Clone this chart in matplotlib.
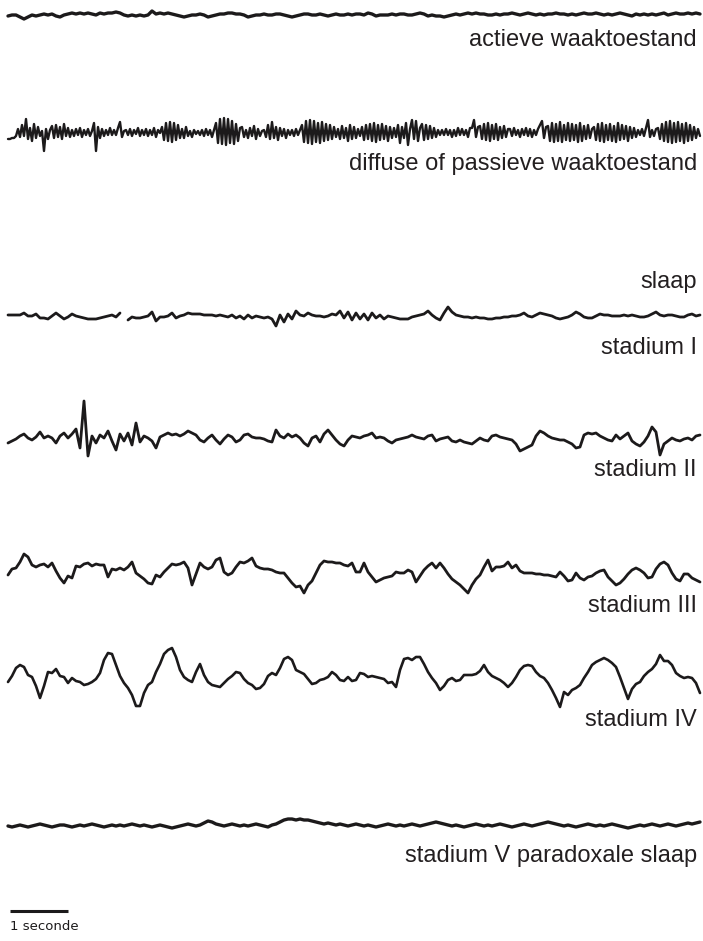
import numpy as np
import matplotlib.pyplot as plt

# EEG traces, values in pixels above each trace's baseline, sampled evenly
actief = [-1, 0, 0, -2, -4, -2, 0, -1, 0, 1,
          0, 1, -1, -2, 0, 1, 2, 1, 2, 1,
          2, 1, 0, 2, 1, 2, 2, 3, 2, 0,
          -1, 0, -1, 0, -1, 0, 4, 1, 2, 1,
          2, 1, 0, -1, -2, -1, 0, 0, 1, 0,
          -2, -1, 0, 1, 1, 2, 2, 1, 1, 0,
          -2, -1, 0, 0, 1, 0, 0, 1, 1, 0,
          -1, -2, -1, 0, 1, 1, 0, 0, 1, 0,
          -1, 0, 1, 0, 0, 1, 0, 1, 1, 0,
          2, 1, -1, 0, 0, 0, 1, 0, 1, 1,
          0, 0, 1, 2, 1, -1, 0, -1, -1, -2,
          -1, 0, 1, 0, 1, 2, 1, 2, 1, 1,
          0, 0, 1, 0, 1, 1, 2, 1, 0, 1,
          2, 1, 0, 1, 0, 1, 1, 2, 1, 1,
          0, 1, 0, 1, 2, 1, 1, 2, 1, 0,
          1, 0, 1, 2, 1, 0, -1, 1, 0, 1,
          0, 1, 0, 1, 2, 0, 1, 2, 1, 1,
          2, 1, 2, 1]

diffuus = [-6, -6, -5, -5, -3,
           4, -4, 8, -3, 14, -6, 5, -8, 9, -5, 6, -3,
           2, -18, 4, -6, 3,
           7, -5, 8, -4, 6, -6, 9, -3, 5, -4,
           3, -3, 4, -2, 5, -4, 3, -2, 4, -3, 2,
           10, -18, 6, -5,
           4, -3, 3, -2, 5, -2, 3, -2, 5,
           11, -4, 2,
           3, -2, 4, -3, 3, -1, 5, -3, 3, -2, 4, -3, 3, -2, 5, -4, 3, 0,
           6, -7, 10, -8, 11, -9, 10, -7, 8, -5,
           4, -5, 6, -3, 2, -4, 3, -1, 2, -2,
           3, -3, 4, -2, 3, -4, 3,
           10, -10, 14, -11, 15, -12, 14, -10, 12, -11, 9, -8, 5,
           6, -4, 3, -5, 5, -3, 7, -6, 4, -3, 2,
           3, -4, 8, -6, 11, -5, 6, -7, 5, -3, 4, -5, 3, -2,
           3, -3, 4, -2, 3,
           8, -9, 12, -10, 13, -11, 12, -9, 10, -10, 11, -8, 9, -7, 8, -6, 6, -4,
           4, -6, 7, -5, 5, -8, 8, -6, 6, -5, 4, -3,
           6, -7, 8, -6, 9, -8, 10, -9, 8, -7, 9, -6, 7, -8, 6, -5,
           5, -4, 8, -10, 6, -5, 10, -12, 4,
           13, -6, 12, -8, 5,
           9, -7, 8, -6, 7, -5, 5, -4, 3, -2,
           3, -2, 4, -2, 3, -4, 3, -3, 5, -2, 4, -2, 3, -4, 5,
           5, 13, -4, 6,
           7, -6, 9, -7, 10, -8, 8, -6, 9, -7, 6, -5, 7, -4, 4,
           4, -3, 5, -2, 3, -4, 4, -2, 5, -3, 4, -4, 3, -2, 4,
           8, 12, -5, 6,
           7, -8, 10, -9, 9, -8, 11, -9, 8, -7, 10, -8, 9, -7, 8, -9, 10, -8, 7, -6, 8, -5, 4,
           6, -7, 9, -8, 10, -9, 8, -7, 9, -8, 7, -9, 10, -7, 8, -6, 7, -8, 6, -5, 5, -4, 3, -2,
           4, -3, 5, 13, -4, 3, -3, 4,
           5, -6, 9, -8, 11, -9, 12, -10, 10, -9, 11, -8, 9, -10, 10, -8, 8, -7, 6, -5, 4, -3]

stadium1 = [2, 2, 2, 2, 4, 1, 1, 3, -1, -1,
            -2, 1, 4, 1, -2, 0, 3, 1, 0, -1,
            -2, -2, -2, -1, 0, 1, 2, 0, 4, np.nan,
            -3, 0, -1, -1, 0, 1, 5, -4, 0, 0,
            1, 4, -1, 1, 2, 4, 3, 3, 3, 2,
            2, 2, 1, 2, 1, 0, 2, -1, 1, -2,
            2, -1, 1, 0, -1, 0, -2, -9, 2, -5,
            3, -2, 6, 2, 1, 4, 2, 1, 1, 0,
            1, 3, 2, 6, -1, 5, -3, 4, -2, 3,
            -3, 4, -1, 2, -2, 1, 0, -1, -2, -2,
            -2, 0, 1, 2, 3, 6, 2, -1, -3, 4,
            10, 5, 2, 1, 0, 0, -1, 0, -1, -1,
            -2, -2, -1, -1, 0, 0, 1, 1, 2, 4,
            1, 0, 2, 4, 3, 2, 1, -1, -2, -1,
            0, 2, 5, 3, 0, -1, -1, 1, 3, 2,
            2, 1, 1, 1, 2, 1, 2, 1, 0, 0,
            1, 3, 5, 2, 1, 2, 2, 1, 0, 0,
            2, 3, 1, 2]

stadium2 = [-5, -3, -1, 2, 4, 0, -2, 1, 6, 0,
            2, 0, -5, 2, 5, 0, 4, 9, -10, 37,
            -18, 2, -5, 3, 0, 7, -3, -12, 4, -3,
            5, -7, 15, -4, 2, 0, -3, -10, 1, 3,
            5, 3, 4, 2, 4, 7, 5, 3, -2, -4,
            0, 3, -2, -6, -1, 3, 1, -4, -2, 3,
            4, 1, 0, 0, -1, -3, -4, 8, 2, 0,
            4, 1, 3, 0, -5, -8, 0, 2, -4, 4,
            8, 3, -2, -6, -8, -2, 2, 1, 0, 2,
            3, 5, 0, 1, 0, -3, -5, -2, -1, 0,
            1, 3, 1, 0, -1, 2, 3, -3, -1, 0,
            1, -3, -4, -2, -4, -5, -6, -3, 0, -2,
            -3, 2, 3, 1, 0, -1, -2, -6, -13, -11,
            -9, -7, 2, 7, 5, 2, 0, -1, -2, -2,
            -4, -6, -10, -9, 3, 5, 4, 5, 2, 0,
            -2, -3, 3, -1, 2, 5, -3, -6, -8, -4,
            2, 11, 6, -17, -6, -3, 0, -2, -3, -1,
            0, -2, 2, 3]

stadium3 = [-5, 1, 2, 8, 16, 13, 5, 3, 5, 6,
            3, 7, -1, -8, -13, -6, -8, 4, 3, 6,
            7, 4, 6, 5, 5, -7, 1, 0, 2, 0,
            3, 8, -3, -6, -9, -13, -14, -5, -7, -2,
            2, 6, 5, 6, 8, 2, -15, -4, 7, 3,
            1, 3, 10, 12, -2, -5, -3, 3, 8, 7,
            9, 12, 4, 2, 1, 1, 0, -2, -3, -3,
            -8, -13, -17, -16, -23, -15, -11, -3, 5, 9,
            8, 8, 7, 7, 5, 4, 7, -2, -2, 7,
            -2, -7, -12, -10, -8, -7, -6, -2, -3, -3,
            0, -2, -12, -6, 0, 4, 7, 2, 7, 2,
            -4, -9, -12, -15, -19, -23, -15, -9, -5, 3,
            10, -1, 3, 3, 4, 8, 2, 5, -1, -3,
            -3, -3, -4, -4, -5, -5, -6, -7, -2, -6,
            -11, -10, -3, -8, -10, -7, -6, -3, -1, 0,
            -7, -11, -15, -13, -9, -4, 0, 2, 0, -3,
            -8, -7, 1, 6, 8, 5, -3, -9, -11, -4,
            -4, -8, -10, -12]

stadium4 = [-4, 2, 10, 13, 11, 3, 1, -8, -20, -8,
            6, 5, 9, 2, 1, -5, 0, -3, -4, -7,
            -6, -4, -1, 5, 18, 25, 24, 13, 2, -5,
            -10, -17, -28, -28, -15, -7, -4, 6, 14, 24,
            28, 30, 21, 8, 1, -2, -4, 6, 14, 3,
            -4, -7, -8, -9, -5, -1, 2, 6, 5, -1,
            -5, -7, -11, -10, -6, 2, 5, 3, 10, 19,
            21, 18, 8, 6, 4, -1, -6, -5, -2, -1,
            1, 6, 3, -2, -3, 1, -3, -2, 5, 4,
            1, 2, 1, 0, -1, -5, -4, -9, 8, 19,
            20, 18, 21, 21, 14, 6, 0, -5, -12, -8,
            -2, 0, -3, -2, 3, 3, 3, 4, 7, 13,
            6, 2, 0, -2, -5, -9, -5, 1, 8, 12,
            13, 12, 6, 2, 0, -5, -12, -20, -29, -14,
            -17, -12, -10, -7, 0, 6, 13, 16, 18, 20,
            18, 15, 11, 1, -10, -21, -11, -6, -4, 2,
            6, 9, 14, 23, 17, 17, 13, 5, 2, 0,
            1, 0, -5, -15]

stadium5 = [0, -1, 0, 1, 0, -1, 0, 1, 2, 1, 0, -1, 0, 1,
            1, 0, -1, 0, 1, 0, 1, 2, 1, 0, -1, 0, 1, 0, 1,
            0, 1, 2, 1, 0, 1, 0, -1, 0, 1, 0, -1, -2, -1, 0,
            1, 2, 1, 0, 1, 3, 5, 4, 2, 1, 0, 1, 2, 1, 0,
            1, 0, 1, 2, 1, 0, -1, 1, 2, 4, 6, 7, 7, 6, 7,
            6, 6, 5, 4, 3, 2, 3, 2, 1, 2, 1, 0, 1, 2, 1,
            0, 1, 0, -1, 0, 1, 2, 1, 0, 1, 0, 1, 2, 1, 0,
            1, 2, 3, 4, 3, 2, 1, 0, 1, 0, -1, 0, 1, 2, 1,
            0, 1, 0, 1, 2, 1, 0, -1, 0, 1, 2, 1, 0, 1, 2,
            3, 4, 3, 2, 1, 0, 1, 0, -1, 0, 1, 2, 1, 0, 1,
            0, 1, 2, 1, 0, -1, -2, -1, 0, 1, 0, 1, 2, 1, 0,
            1, 2, 1, 0, 1, 2, 3, 2, 3, 4]

labels = ["actieve waaktoestand", "diffuse of passieve waaktoestand", "slaap",
          "stadium I", "stadium II", "stadium III", "stadium IV",
          "stadium V paradoxale slaap"]

ink = "#1c1a1b"
text_col = "#231f20"

fig = plt.figure(figsize=(7.03, 9.41), dpi=100)
ax = fig.add_axes([0, 0, 1, 1])
ax.set_xlim(0, 703)
ax.set_ylim(941, 0)
ax.axis("off")

traces = [(actief, 15, 2.4), (diffuus, 133, 1.7), (stadium1, 317, 2.0),
          (stadium2, 438, 2.0), (stadium3, 570, 2.0), (stadium4, 678, 1.9),
          (stadium5, 826, 2.4)]
for vals, base, lw in traces:
    vals = np.array(vals, dtype=float)
    x = np.linspace(8, 700, len(vals))
    ax.plot(x, base - vals, color=ink, lw=lw, solid_joinstyle="round",
            solid_capstyle="round")

label_y = [46, 170, 288, 354, 476, 612, 726, 862]
for lab, y in zip(labels, label_y):
    ax.text(697, y, lab, ha="right", va="baseline", fontsize=17,
            family="Liberation Sans", color=text_col)

# scale bar
ax.plot([10, 68], [911, 911], color=ink, lw=2.2, solid_capstyle="butt")
ax.text(10, 930, "1 seconde", ha="left", va="baseline", fontsize=9.5,
        family="DejaVu Sans", color=ink)

fig.savefig("out.png", dpi=100)
